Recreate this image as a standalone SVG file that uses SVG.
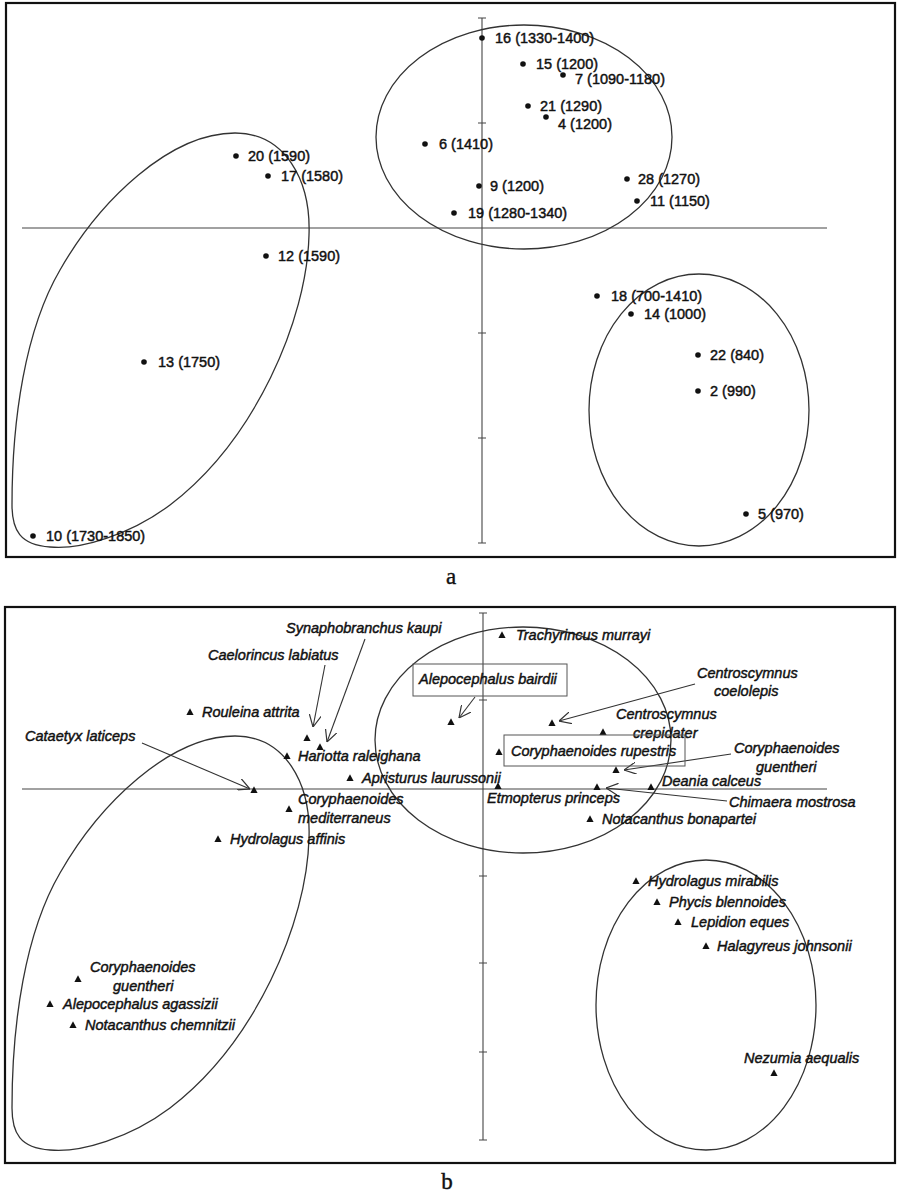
<svg xmlns="http://www.w3.org/2000/svg" xmlns:xlink="http://www.w3.org/1999/xlink" width="897" height="1192" viewBox="0 0 897 1192">
<style>
.frame{fill:none;stroke:#111;stroke-width:2.2}
.axis{fill:none;stroke:#444;stroke-width:1.1}
.clus{fill:none;stroke:#333;stroke-width:1.3}
.box{fill:none;stroke:#555;stroke-width:1}
.lbl{font-family:"Liberation Sans",Arial,sans-serif;font-size:14.5px;fill:#111;stroke:#111;stroke-width:0.45}
.sp{font-family:"Liberation Sans",Arial,sans-serif;font-size:14.5px;font-style:italic;fill:#111;stroke:#111;stroke-width:0.45}
.pan{font-family:"Liberation Serif","Times New Roman",serif;font-size:23px;fill:#111;stroke:#111;stroke-width:0.4}
.dot{fill:#111}
.arr{fill:none;stroke:#333;stroke-width:1.1;marker-end:url(#open)}
</style>
<defs>
<marker id="open" viewBox="0 0 12 12" refX="12" refY="6" markerWidth="12" markerHeight="12" markerUnits="userSpaceOnUse" orient="auto">
<path d="M0,0 L12,6 L0,12" fill="none" stroke="#333" stroke-width="1.2"/>
</marker>
<path id="tri" d="M0,-3.8 L3.6,3 L-3.6,3 Z" fill="#111"/>
<path id="leftClus" d="M 235 133 C 285 133 311 180 309 235 C 307 320 255 440 170 505 C 130 535 80 550 50 547 C 20 545 12 530 12 505 C 12 420 25 330 60 270 C 100 200 170 133 235 133 Z"/>
</defs>
<rect width="897" height="1192" fill="#fff"/>

<!-- Panel a -->
<g id="panel-a-frame">
<rect class="frame" x="6" y="3" width="889" height="554"/>
<text class="pan" x="451" y="584" text-anchor="middle">a</text>
</g>
<g id="panel-a-axes">
<line class="axis" x1="22" y1="228" x2="827" y2="228"/>
<line class="axis" x1="482" y1="18" x2="482" y2="543"/>
<path class="axis" d="M478,18 H486 M478,123 H486 M478,333 H486 M478,438 H486 M478,543 H486"/>
</g>
<g id="panel-a-clusters">
<ellipse class="clus" cx="524" cy="137" rx="148" ry="112"/>
<ellipse class="clus" cx="699" cy="410" rx="110" ry="136"/>
<use xlink:href="#leftClus" href="#leftClus" class="clus"/>
</g>
<g id="a16"><circle class="dot" cx="482" cy="38" r="2.8"/><text class="lbl" x="495" y="43">16 (1330-1400)</text></g>
<g id="a15"><circle class="dot" cx="523" cy="64" r="2.8"/><text class="lbl" x="536" y="69">15 (1200)</text></g>
<g id="a7"><circle class="dot" cx="563" cy="75" r="2.8"/><text class="lbl" x="575" y="84">7 (1090-1180)</text></g>
<g id="a21"><circle class="dot" cx="528" cy="106" r="2.8"/><text class="lbl" x="540" y="111">21 (1290)</text></g>
<g id="a4"><circle class="dot" cx="546" cy="117" r="2.8"/><text class="lbl" x="558" y="129">4 (1200)</text></g>
<g id="a6"><circle class="dot" cx="425" cy="144" r="2.8"/><text class="lbl" x="439" y="149">6 (1410)</text></g>
<g id="a9"><circle class="dot" cx="479" cy="186" r="2.8"/><text class="lbl" x="490" y="191">9 (1200)</text></g>
<g id="a19"><circle class="dot" cx="454" cy="213" r="2.8"/><text class="lbl" x="468" y="218">19 (1280-1340)</text></g>
<g id="a28"><circle class="dot" cx="627" cy="179" r="2.8"/><text class="lbl" x="638" y="184">28 (1270)</text></g>
<g id="a11"><circle class="dot" cx="637" cy="201" r="2.8"/><text class="lbl" x="650" y="206">11 (1150)</text></g>
<g id="a20"><circle class="dot" cx="236" cy="156" r="2.8"/><text class="lbl" x="248" y="161">20 (1590)</text></g>
<g id="a17"><circle class="dot" cx="268" cy="176" r="2.8"/><text class="lbl" x="281" y="181">17 (1580)</text></g>
<g id="a12"><circle class="dot" cx="266" cy="256" r="2.8"/><text class="lbl" x="278" y="261">12 (1590)</text></g>
<g id="a13"><circle class="dot" cx="144" cy="362" r="2.8"/><text class="lbl" x="158" y="367">13 (1750)</text></g>
<g id="a10"><circle class="dot" cx="33" cy="536" r="2.8"/><text class="lbl" x="46" y="541">10 (1730-1850)</text></g>
<g id="a18"><circle class="dot" cx="597" cy="296" r="2.8"/><text class="lbl" x="611" y="301">18 (700-1410)</text></g>
<g id="a14"><circle class="dot" cx="631" cy="314" r="2.8"/><text class="lbl" x="644" y="319">14 (1000)</text></g>
<g id="a22"><circle class="dot" cx="698" cy="355" r="2.8"/><text class="lbl" x="710" y="360">22 (840)</text></g>
<g id="a2"><circle class="dot" cx="698" cy="391" r="2.8"/><text class="lbl" x="710" y="396">2 (990)</text></g>
<g id="a5"><circle class="dot" cx="746" cy="514" r="2.8"/><text class="lbl" x="758" y="519">5 (970)</text></g>

<!-- Panel b -->
<g id="panel-b-frame">
<rect class="frame" x="5" y="607" width="890" height="556"/>
<text class="pan" x="447" y="1189" text-anchor="middle">b</text>
</g>
<g id="panel-b-axes">
<line class="axis" x1="22" y1="789" x2="827" y2="789"/>
<line class="axis" x1="483" y1="613" x2="483" y2="1140"/>
<path class="axis" d="M479,613 H487 M479,700 H487 M479,876 H487 M479,963 H487 M479,1052 H487 M479,1140 H487"/>
</g>
<g id="panel-b-clusters">
<ellipse class="clus" cx="523" cy="740" rx="148" ry="113"/>
<ellipse class="clus" cx="706" cy="1005" rx="110" ry="145"/>
<use xlink:href="#leftClus" href="#leftClus" class="clus" transform="translate(0,603)"/>
</g>
<g id="connectors">
<line class="arr" x1="365" y1="639" x2="327" y2="742"/>
<line class="arr" x1="325" y1="665" x2="313" y2="727"/>
<line class="arr" x1="142" y1="743" x2="250" y2="789"/>
<line class="arr" x1="475" y1="697" x2="459" y2="718"/>
<line class="arr" x1="695" y1="684" x2="559" y2="721"/>
<line class="arr" x1="731" y1="754" x2="624" y2="770"/>
<line class="arr" x1="727" y1="801" x2="606" y2="788"/>
</g>
<g id="b-synaphobranchus"><use href="#tri" xlink:href="#tri" x="320" y="747"/><text class="sp" x="286" y="633">Synaphobranchus kaupi</text></g>
<g id="b-caelorincus"><use href="#tri" xlink:href="#tri" x="307" y="738"/><text class="sp" x="208" y="660">Caelorincus labiatus</text></g>
<g id="b-rouleina"><use href="#tri" xlink:href="#tri" x="190" y="712"/><text class="sp" x="202" y="717">Rouleina attrita</text></g>
<g id="b-cataetyx"><use href="#tri" xlink:href="#tri" x="254" y="790"/><text class="sp" x="25" y="741">Cataetyx laticeps</text></g>
<g id="b-hariotta"><use href="#tri" xlink:href="#tri" x="287" y="756"/><text class="sp" x="298" y="761">Hariotta raleighana</text></g>
<g id="b-apristurus"><use href="#tri" xlink:href="#tri" x="350" y="778"/><text class="sp" x="362" y="783">Apristurus laurussonii</text></g>
<g id="b-cmediterraneus"><use href="#tri" xlink:href="#tri" x="289" y="809"/><text class="sp" x="298" y="804">Coryphaenoides</text><text class="sp" x="298" y="823">mediterraneus</text></g>
<g id="b-haffinis"><use href="#tri" xlink:href="#tri" x="218" y="839"/><text class="sp" x="230" y="844">Hydrolagus affinis</text></g>
<g id="b-trachyrincus"><use href="#tri" xlink:href="#tri" x="502" y="635"/><text class="sp" x="516" y="640">Trachyrincus murrayi</text></g>
<g id="b-abairdii"><use href="#tri" xlink:href="#tri" x="451" y="722"/><rect class="box" x="413" y="664" width="154" height="32"/><text class="sp" x="419" y="684">Alepocephalus bairdii</text></g>
<g id="b-ccoelolepis"><use href="#tri" xlink:href="#tri" x="552" y="723"/><text class="sp" x="697" y="678">Centroscymnus</text><text class="sp" x="714" y="696">coelolepis</text></g>
<g id="b-ccrepidater"><use href="#tri" xlink:href="#tri" x="603" y="732"/><text class="sp" x="616" y="719">Centroscymnus</text><text class="sp" x="633" y="738">crepidater</text></g>
<g id="b-crupestris"><use href="#tri" xlink:href="#tri" x="499" y="752"/><rect class="box" x="504" y="735" width="181" height="31"/><text class="sp" x="511" y="756">Coryphaenoides rupestris</text></g>
<g id="b-cguentheri-r"><use href="#tri" xlink:href="#tri" x="616" y="770"/><text class="sp" x="734" y="753">Coryphaenoides</text><text class="sp" x="756" y="772">guentheri</text></g>
<g id="b-deania"><use href="#tri" xlink:href="#tri" x="651" y="787"/><text class="sp" x="662" y="786">Deania calceus</text></g>
<g id="b-etmopterus"><use href="#tri" xlink:href="#tri" x="498" y="786"/><text class="sp" x="487" y="803">Etmopterus princeps</text></g>
<g id="b-chimaera"><use href="#tri" xlink:href="#tri" x="597" y="787"/><text class="sp" x="729" y="807">Chimaera mostrosa</text></g>
<g id="b-nbonapartei"><use href="#tri" xlink:href="#tri" x="590" y="819"/><text class="sp" x="602" y="824">Notacanthus bonapartei</text></g>
<g id="b-hmirabilis"><use href="#tri" xlink:href="#tri" x="636" y="881"/><text class="sp" x="648" y="886">Hydrolagus mirabilis</text></g>
<g id="b-phycis"><use href="#tri" xlink:href="#tri" x="657" y="902"/><text class="sp" x="669" y="907">Phycis blennoides</text></g>
<g id="b-lepidion"><use href="#tri" xlink:href="#tri" x="678" y="922"/><text class="sp" x="691" y="927">Lepidion eques</text></g>
<g id="b-halagyreus"><use href="#tri" xlink:href="#tri" x="706" y="946"/><text class="sp" x="717" y="951">Halagyreus johnsonii</text></g>
<g id="b-nezumia"><use href="#tri" xlink:href="#tri" x="774" y="1073"/><text class="sp" x="744" y="1063">Nezumia aequalis</text></g>
<g id="b-cguentheri-l"><use href="#tri" xlink:href="#tri" x="78" y="979"/><text class="sp" x="90" y="972">Coryphaenoides</text><text class="sp" x="113" y="991">guentheri</text></g>
<g id="b-aagassizii"><use href="#tri" xlink:href="#tri" x="50" y="1004"/><text class="sp" x="63" y="1009">Alepocephalus agassizii</text></g>
<g id="b-nchemnitzii"><use href="#tri" xlink:href="#tri" x="73" y="1025"/><text class="sp" x="85" y="1030">Notacanthus chemnitzii</text></g>
</svg>
